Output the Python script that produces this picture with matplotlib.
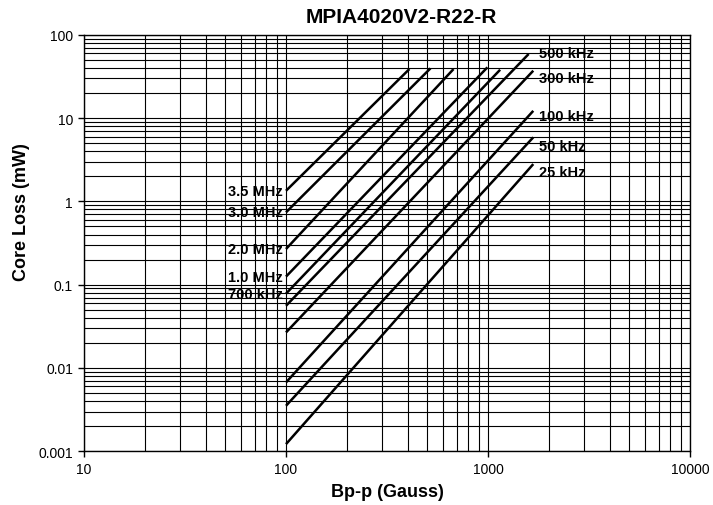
import numpy as np
import matplotlib.pyplot as plt
from matplotlib.ticker import LogLocator, NullFormatter

plt.rcParams['font.family'] = ['Liberation Sans', 'DejaVu Sans']

# ==== curve data (Bp-p in Gauss, core loss in mW)
freq_labels = ['3.5 MHz', '3.0 MHz', '2.0 MHz', '1.0 MHz', '700 kHz',
               '500 kHz', '300 kHz', '100 kHz', '50 kHz', '25 kHz']
b_start = [100, 100, 100, 100, 100, 100, 100, 100, 100, 100]
loss_start = [1.34, 0.738, 0.268, 0.125, 0.078, 0.0558, 0.0267, 0.00671, 0.00352, 0.00122]
b_end = [408, 519, 675, 993, 1148, 1589, 1675, 1675, 1675, 1675]
loss_end = [38.7, 39.5, 38.7, 40.6, 38.0, 58.7, 37.0, 12.2, 5.87, 2.80]

# labels for the high-end of the low frequency curves
right_labels = ['500 kHz', '300 kHz', '100 kHz', '50 kHz', '25 kHz']
right_label_y = [59.7, 30.0, 10.5, 4.65, 2.27]

x_ticks = [10, 100, 1000, 10000]
x_ticklabels = ['10', '100', '1000', '10000']
y_ticks = [0.001, 0.01, 0.1, 1, 10, 100]
y_ticklabels = ['0.001', '0.01', '0.1', '1', '10', '100']

fig = plt.figure(figsize=(7.13, 5.06), dpi=100)
ax = fig.add_axes([0.1178, 0.1061, 0.8500, 0.8233])
ax.set_xscale('log')
ax.set_yscale('log')
ax.set_xlim(10, 10000)
ax.set_ylim(0.001, 100)

# ==== grid
ax.xaxis.set_minor_locator(LogLocator(base=10, subs=np.arange(2, 10)))
ax.yaxis.set_minor_locator(LogLocator(base=10, subs=np.arange(2, 10)))
ax.xaxis.set_minor_formatter(NullFormatter())
ax.yaxis.set_minor_formatter(NullFormatter())
ax.grid(True, which='both', color='black', linewidth=0.8)
ax.set_axisbelow(True)

# ==== curves
for i in range(len(freq_labels)):
    ax.plot([b_start[i], b_end[i]], [loss_start[i], loss_end[i]],
            color='black', linewidth=1.8, solid_capstyle='butt')

# left-side labels next to curve starts
for i in range(5):
    ax.annotate(freq_labels[i], (b_start[i], loss_start[i]),
                xytext=(-2, 0), textcoords='offset points',
                ha='right', va='center', fontsize=10.5, fontweight='bold')

# right-side labels
for lab, yv in zip(right_labels, right_label_y):
    ax.text(1795, yv, lab, ha='left', va='center', fontsize=10.5, fontweight='bold')

ax.set_xticks(x_ticks)
ax.set_xticklabels(x_ticklabels)
ax.set_yticks(y_ticks)
ax.set_yticklabels(y_ticklabels)
ax.tick_params(which='major', direction='out', length=4, width=1, labelsize=10, pad=4)
ax.tick_params(which='minor', length=0)
for s in ax.spines.values():
    s.set_color('black')
    s.set_linewidth(1)

ax.set_title('MPIA4020V2-R22-R', fontsize=15, fontweight='bold', pad=9, x=0.523)
ax.set_xlabel('Bp-p (Gauss)', fontsize=13, fontweight='bold', labelpad=5)
ax.set_ylabel('Core Loss (mW)', fontsize=13, fontweight='bold', labelpad=6, y=0.576)

fig.savefig('out.png', dpi=100)
